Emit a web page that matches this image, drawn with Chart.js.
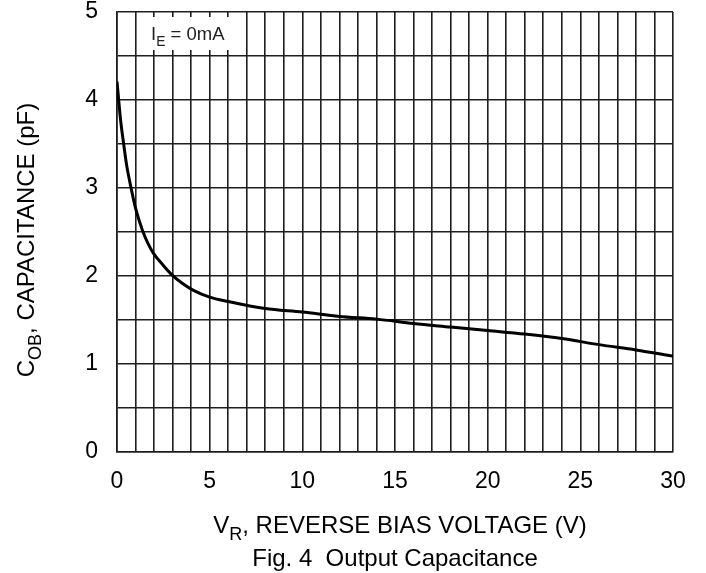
<!DOCTYPE html>
<html>
<head>
<meta charset="utf-8">
<script src="https://cdn.jsdelivr.net/npm/chart.js@4.4.1/dist/chart.umd.min.js"></script>
<style>
  html, body { margin: 0; padding: 0; background: #fff; }
  #wrap { width: 706px; height: 573px; position: relative; }
</style>
</head>
<body>
<div id="wrap"><canvas id="chart"></canvas></div>
<script>
// values (reverse bias volts -> output capacitance pF)
const voltage     = [0, 0.09, 0.2, 0.36, 0.52, 0.76, 1.0, 1.37, 1.65, 1.96, 2.5, 2.98, 3.5, 4.1, 5, 6, 8, 10, 12, 14, 16, 18, 20, 22, 24, 26, 28, 30];
const capacitance = [4.21, 4.0, 3.76, 3.5, 3.26, 3.0, 2.77, 2.52, 2.38, 2.26, 2.12, 2.01, 1.92, 1.84, 1.76, 1.71, 1.63, 1.59, 1.54, 1.51, 1.46, 1.42, 1.38, 1.34, 1.29, 1.22, 1.16, 1.09];
const xTickLabels = [0, 5, 10, 15, 20, 25, 30];
const yTickLabels = [0, 1, 2, 3, 4, 5];

const FONT = '"Liberation Sans", Arial, sans-serif';
const GRID = '#1e1e1e';

// text with a subscript part, drawn straight on the canvas
function subText(ctx, parts, x, y, size) {
  let cx = x;
  parts.forEach(p => {
    const fs = p.sub ? size * 0.75 : size;
    ctx.font = `${fs}px ${FONT}`;
    ctx.fillText(p.t, cx, p.sub ? y + size * 0.3 : y);
    cx += ctx.measureText(p.t).width;
  });
  return cx - x;
}
function measureParts(ctx, parts, size) {
  let w = 0;
  parts.forEach(p => {
    ctx.font = `${p.sub ? size * 0.75 : size}px ${FONT}`;
    w += ctx.measureText(p.t).width;
  });
  return w;
}

const labels = {
  id: 'labels',
  afterDraw(chart) {
    const ctx = chart.ctx;
    ctx.save();
    ctx.textBaseline = 'alphabetic';
    ctx.textAlign = 'left';

    // condition box
    ctx.fillStyle = '#fff';
    ctx.fillRect(145, 17, 87, 33);
    ctx.fillStyle = '#222';
    subText(ctx, [{ t: 'I' }, { t: 'E', sub: true }, { t: ' = 0mA' }], 151, 40, 18.5);

    // x title
    ctx.fillStyle = '#000';
    const xt = [{ t: 'V' }, { t: 'R', sub: true }, { t: ', REVERSE BIAS VOLTAGE (V)' }];
    let w = measureParts(ctx, xt, 24);
    subText(ctx, xt, 400 - w / 2, 533, 24);

    ctx.font = `24px ${FONT}`;
    ctx.textAlign = 'center';
    ctx.fillText('Fig. 4  Output Capacitance', 395, 566);
    ctx.textAlign = 'left';

    // y title, rotated
    const yt = [{ t: 'C' }, { t: 'OB', sub: true }, { t: ', CAPACITANCE (pF)' }];
    ctx.translate(34, 240);
    ctx.rotate(-Math.PI / 2);
    w = measureParts(ctx, yt, 24);
    subText(ctx, yt, -w / 2, 0, 24);
    ctx.restore();
  }
};

new Chart(document.getElementById('chart'), {
  type: 'line',
  data: {
    datasets: [{
      data: voltage.map((v, i) => ({ x: v, y: capacitance[i] })),
      borderColor: '#000',
      borderWidth: 3,
      pointRadius: 0,
      cubicInterpolationMode: 'monotone',
      fill: false
    }]
  },
  options: {
    responsive: true,
    maintainAspectRatio: false,
    animation: false,
    layout: { padding: { top: 12, right: 33, left: 0, bottom: 0 } },
    plugins: { legend: { display: false }, tooltip: { enabled: false } },
    scales: {
      x: {
        type: 'linear',
        min: 0, max: 30,
        afterFit: s => { s.height = 121; s.paddingLeft = 0; s.paddingRight = 0; },
        afterBuildTicks: s => { s.ticks = Array.from({ length: 31 }, (_, i) => ({ value: i })); },
        grid: { color: GRID, lineWidth: 1.6, drawTicks: false },
        border: { color: GRID, width: 1.6 },
        ticks: {
          autoSkip: false,
          maxRotation: 0,
          padding: 16,
          color: '#000',
          font: { family: FONT, size: 23 },
          callback: v => xTickLabels.includes(v) ? String(v) : ''
        }
      },
      y: {
        min: 0, max: 5,
        afterFit: s => { s.width = 117; s.paddingTop = 0; s.paddingBottom = 0; },
        afterBuildTicks: s => { s.ticks = Array.from({ length: 11 }, (_, i) => ({ value: i / 2 })); },
        grid: { color: GRID, lineWidth: 1.6, drawTicks: false },
        border: { color: GRID, width: 1.6 },
        ticks: {
          autoSkip: false,
          padding: 19,
          color: '#000',
          font: { family: FONT, size: 23 },
          callback: v => yTickLabels.includes(v) ? String(v) : ''
        }
      }
    }
  },
  plugins: [labels]
});
</script>
</body>
</html>
